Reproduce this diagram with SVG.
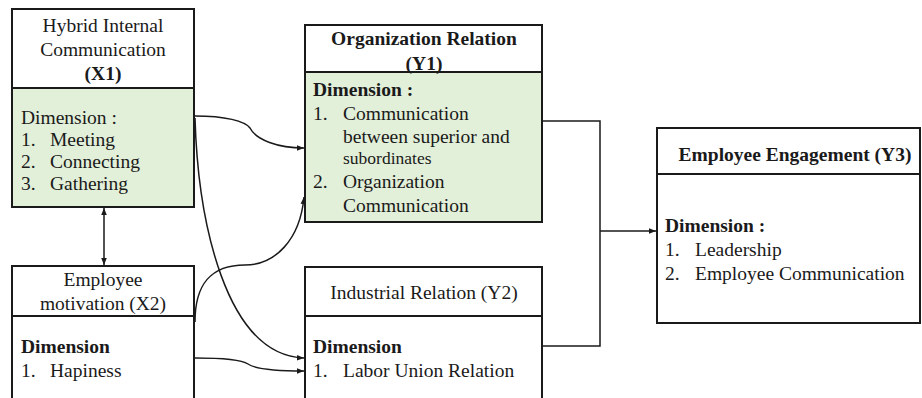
<svg xmlns="http://www.w3.org/2000/svg" width="922" height="398" viewBox="0 0 922 398">
<defs>
<marker id="ah" viewBox="0 0 10 10" refX="10" refY="5" markerWidth="7" markerHeight="7" markerUnits="userSpaceOnUse" orient="auto-start-reverse">
<path d="M0,1 L10,5 L0,9 z" fill="#1a1a1a"/>
</marker>
<style>
.box{fill:#fff;stroke:#1a1a1a;stroke-width:2}
.g{fill:#e2efd9}
text{font-family:'Liberation Serif','Times New Roman',serif;font-size:19.5px;fill:#1a1a1a}
.b{font-weight:bold}
.c{text-anchor:middle}
.con{fill:none;stroke:#1a1a1a;stroke-width:1.5}
</style>
</defs>
<rect width="922" height="398" fill="#fff"/>
<g id="connectors">
<path class="con" d="M195,116 C225,116 245,121 250,128 C256,140 278,148 304,148" marker-end="url(#ah)"/>
<path class="con" d="M195,118 C198,220 225,355 304,358" marker-end="url(#ah)"/>
<path class="con" d="M195,322 C195,285 210,265 245,265 C275,265 300,240 304,197" marker-end="url(#ah)"/>
<path class="con" d="M195,358 C225,358 242,360 248,364 C255,369 275,371 304,371" marker-end="url(#ah)"/>
<path class="con" d="M104,208 V265" marker-start="url(#ah)" marker-end="url(#ah)"/>
<path class="con" d="M542,121 H600 V346 H542"/>
<path class="con" d="M600,231 H656" marker-end="url(#ah)"/>
</g>
<g id="X1" font-family="Liberation Serif, serif">
<rect class="box" x="12" y="9" width="182" height="198"/>
<rect class="box g" x="12" y="88" width="182" height="119"/>
<text class="c" x="103" y="32">Hybrid Internal</text>
<text class="c" x="103" y="56">Communication</text>
<text class="c b" x="103" y="80">(X1)</text>
<text x="21" y="124">Dimension :</text>
<text x="21" y="146">1.</text><text x="50" y="146">Meeting</text>
<text x="21" y="168">2.</text><text x="50" y="168">Connecting</text>
<text x="21" y="190">3.</text><text x="50" y="190">Gathering</text>
</g>
<g id="X2">
<rect class="box" x="12" y="266" width="182" height="150"/>
<line x1="12" y1="316" x2="194" y2="316" stroke="#1a1a1a" stroke-width="2"/>
<text class="c" x="103" y="286">Employee</text>
<text class="c" x="103" y="310">motivation (X2)</text>
<text class="b" x="21" y="353">Dimension</text>
<text x="21" y="377">1.</text><text x="50" y="377">Hapiness</text>
</g>
<g id="Y1">
<rect class="box" x="305" y="25" width="237" height="197"/>
<rect class="box g" x="305" y="72" width="237" height="150"/>
<text class="c b" x="424" y="45">Organization Relation</text>
<text class="c b" x="424" y="70">(Y1)</text>
<text class="b" x="313" y="96">Dimension :</text>
<text x="313" y="120">1.</text><text x="343" y="120">Communication</text>
<text x="343" y="143">between superior and</text>
<text x="343" y="164" style="font-size:17.5px">subordinates</text>
<text x="313" y="188">2.</text><text x="343" y="188">Organization</text>
<text x="343" y="212">Communication</text>
</g>
<g id="Y2">
<rect class="box" x="305" y="267" width="237" height="150"/>
<line x1="305" y1="316" x2="542" y2="316" stroke="#1a1a1a" stroke-width="2"/>
<text class="c" x="424" y="299">Industrial Relation (Y2)</text>
<text class="b" x="313" y="353">Dimension</text>
<text x="313" y="377">1.</text><text x="343" y="377">Labor Union Relation</text>
</g>
<g id="Y3">
<rect class="box" x="657" y="128" width="263" height="195"/>
<line x1="657" y1="174" x2="920" y2="174" stroke="#1a1a1a" stroke-width="2"/>
<text class="c b" x="795" y="161">Employee Engagement (Y3)</text>
<text class="b" x="665" y="232">Dimension :</text>
<text x="665" y="256">1.</text><text x="695" y="256">Leadership</text>
<text x="665" y="280">2.</text><text x="695" y="280">Employee Communication</text>
</g>
</svg>
